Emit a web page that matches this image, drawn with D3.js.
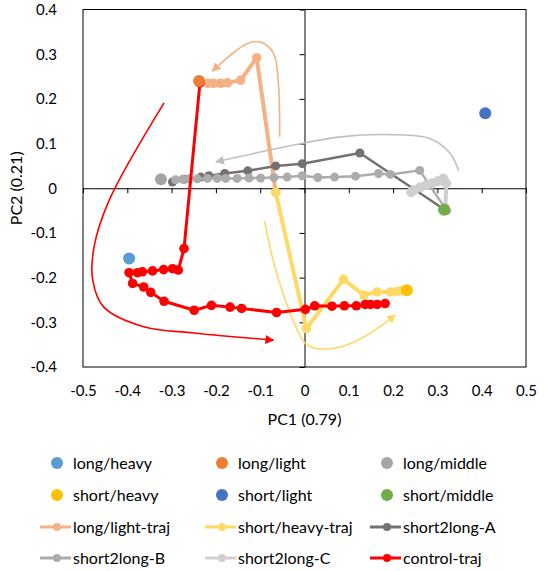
<!DOCTYPE html>
<html><head><meta charset="utf-8">
<script src="https://cdn.jsdelivr.net/npm/d3@7"></script>
<style>body{margin:0;background:#fff}svg{font-family:Lato,"Open Sans",sans-serif}</style>
</head><body><svg id="c" width="550" height="571"></svg>
<script>
// ---- data ----
const xTicks = [-0.5,-0.4,-0.3,-0.2,-0.1,0,0.1,0.2,0.3,0.4,0.5];
const yTicks = [-0.4,-0.3,-0.2,-0.1,0,0.1,0.2,0.3,0.4];
const xTitle = "PC1 (0.79)";
const yTitle = "PC2 (0.21)";

const pointNames = ["long/heavy","long/light","long/middle","short/heavy","short/light","short/middle"];
const pointX = [-0.396,-0.238,-0.324,0.231,0.408,0.315];
const pointY = [-0.157,0.240,0.020,-0.228,0.168,-0.048];
const pointColors = ["#5B9BD5","#ED7D31","#A5A5A5","#FFC000","#4472C4","#70AD47"];

const trajNames = ["long/light-traj","short/heavy-traj","short2long-A","short2long-B","short2long-C","control-traj"];
const trajColors = ["#F4B183","#FFD966","#767171","#AEABAB","#D0CECE","#FF0000"];

const lightTrajX = [-0.065,-0.108,-0.144,-0.174,-0.189,-0.205,-0.218,-0.238];
const lightTrajY = [-0.009,0.292,0.242,0.236,0.235,0.235,0.235,0.240];

const heavyTrajX = [-0.065,0.004,0.088,0.134,0.164,0.194,0.209,0.220,0.231];
const heavyTrajY = [-0.009,-0.314,-0.204,-0.239,-0.232,-0.232,-0.231,-0.229,-0.228];

const aTrajX = [0.315,0.125,-0.005,-0.065,-0.128,-0.180,-0.216,-0.234,-0.272,-0.298];
const aTrajY = [-0.047,0.079,0.055,0.050,0.039,0.033,0.028,0.025,0.020,0.014];

const bTrajX = [0.321,0.260,0.194,0.167,0.115,0.068,0.030,-0.005,-0.039,-0.069,-0.099,-0.125,-0.152,-0.178,-0.197,-0.219,-0.242,-0.261,-0.275,-0.291];
const bTrajY = [-0.050,0.040,0.031,0.033,0.027,0.025,0.024,0.028,0.025,0.024,0.023,0.023,0.022,0.022,0.022,0.022,0.021,0.021,0.020,0.019];

const cTrajX = [0.318,0.320,0.313,0.302,0.288,0.275,0.261,0.248,0.241];
const cTrajY = [-0.045,0.011,0.022,0.016,0.011,0.007,0.002,-0.004,-0.009];

const ctrlTrajX = [-0.236,-0.272,-0.285,-0.298,-0.318,-0.343,-0.366,-0.377,-0.396,-0.388,-0.363,-0.347,-0.317,-0.249,-0.210,-0.168,-0.142,-0.063,0.002,0.023,0.062,0.090,0.117,0.137,0.149,0.164,0.182];
const ctrlTrajY = [0.236,-0.135,-0.183,-0.180,-0.182,-0.185,-0.187,-0.189,-0.189,-0.213,-0.221,-0.233,-0.253,-0.273,-0.262,-0.266,-0.269,-0.278,-0.271,-0.263,-0.264,-0.263,-0.263,-0.260,-0.260,-0.260,-0.258];

// annotation arrows (data coordinates)
const arrowRedX = [-0.317,-0.441,-0.475,-0.478,-0.453,-0.363,-0.250,-0.070];
const arrowRedY = [0.191,-0.027,-0.131,-0.206,-0.266,-0.310,-0.324,-0.340];
const arrowOrangeX = [-0.056,-0.059,-0.070,-0.099,-0.129,-0.167,-0.208];
const arrowOrangeY = [0.115,0.235,0.302,0.327,0.324,0.298,0.262];
const arrowYellowX = [-0.090,-0.069,-0.032,0.002,0.029,0.081,0.134,0.205];
const arrowYellowY = [-0.073,-0.168,-0.280,-0.347,-0.359,-0.355,-0.333,-0.284];
const arrowGrayX = [0.348,0.329,0.284,0.194,0.081,-0.032,-0.200];
const arrowGrayY = [0.039,0.078,0.111,0.120,0.115,0.095,0.059];

// ---- chart ----
const svg = d3.select("#c");
const L=83, R=526, T=9.5, B=367;
const x = d3.scaleLinear().domain([-0.5,0.5]).range([L,R]);
const y = d3.scaleLinear().domain([-0.4,0.4]).range([B,T]);
const fmt = d => d===0 ? "0" : d3.format(".1f")(d).replace("−","-");

// plot border
svg.append("rect").attr("x",L).attr("y",T).attr("width",R-L).attr("height",B-T)
  .attr("fill","none").attr("stroke","#000").attr("stroke-width",1);

// x axis on y=0
const gx = svg.append("g").attr("transform",`translate(0,${y(0)})`)
  .call(d3.axisBottom(x).tickValues(xTicks).tickFormat("").tickSizeInner(5).tickSizeOuter(0));
gx.select(".domain").attr("stroke","#000");
// y axis on x=0
const gy = svg.append("g").attr("transform",`translate(${x(0)},0)`)
  .call(d3.axisLeft(y).tickValues(yTicks).tickFormat("").tickSizeInner(5).tickSizeOuter(0));
gy.select(".domain").attr("stroke","#000");

// tick labels
const gxl = svg.append("g").attr("transform",`translate(0,${B})`)
  .call(d3.axisBottom(x).tickValues(xTicks).tickFormat(fmt).tickSize(0).tickPadding(18));
gxl.select(".domain").remove();
gxl.selectAll("text").attr("font-size",15).attr("fill","#000").attr("font-family","Lato");
const gyl = svg.append("g").attr("transform",`translate(${L},0)`)
  .call(d3.axisLeft(y).tickValues(yTicks).tickFormat(fmt).tickSize(0).tickPadding(26));
gyl.select(".domain").remove();
gyl.selectAll("text").attr("font-size",15).attr("fill","#000").attr("font-family","Lato");

svg.append("text").attr("x",(L+R)/2).attr("y",425).attr("text-anchor","middle")
  .attr("font-size",16).text(xTitle);
svg.append("text").attr("transform",`translate(22,${(T+B)/2}) rotate(-90)`).attr("text-anchor","middle")
  .attr("font-size",16).text(yTitle);

// arrows
const defs = svg.append("defs");
function arrow(xs, ys, color, id){
  defs.append("marker").attr("id",id).attr("viewBox","0 0 10 10").attr("refX",9).attr("refY",5)
    .attr("markerWidth",9).attr("markerHeight",9).attr("markerUnits","userSpaceOnUse").attr("orient","auto")
    .append("path").attr("d","M0,0L10,5L0,10z").attr("fill",color);
  const pts = xs.map((v,i)=>[x(v),y(ys[i])]);
  svg.append("path").attr("d",d3.line().curve(d3.curveCatmullRom.alpha(0.5))(pts))
    .attr("fill","none").attr("stroke",color).attr("stroke-width",1.6).attr("marker-end",`url(#${id})`);
}
arrow(arrowRedX, arrowRedY, "#FF0000", "mR");
arrow(arrowOrangeX, arrowOrangeY, "#F4B183", "mO");
arrow(arrowYellowX, arrowYellowY, "#FFD966", "mY");
arrow(arrowGrayX, arrowGrayY, "#BFBFBF", "mG");

// trajectories
const trajs = [
  [lightTrajX, lightTrajY, 4, 4.8],
  [heavyTrajX, heavyTrajY, 4, 4.8],
  [aTrajX, aTrajY, 2.5, 4.5],
  [bTrajX, bTrajY, 2.5, 4.5],
  [cTrajX, cTrajY, 4, 5],
  [ctrlTrajX, ctrlTrajY, 3, 4.8]
];
const line = d3.line();
trajs.forEach((t,i)=>{
  const pts = t[0].map((v,j)=>[x(v),y(t[1][j])]);
  const g = svg.append("g");
  g.append("path").attr("d",line(pts)).attr("fill","none").attr("stroke",trajColors[i])
    .attr("stroke-width",t[2]).attr("stroke-linejoin","round");
  g.selectAll("circle").data(pts).join("circle").attr("cx",d=>d[0]).attr("cy",d=>d[1])
    .attr("r",t[3]).attr("fill",trajColors[i]);
});

// single points
svg.append("g").selectAll("circle").data(pointX).join("circle")
  .attr("cx",d=>x(d)).attr("cy",(d,i)=>y(pointY[i])).attr("r",6).attr("fill",(d,i)=>pointColors[i]);

// legend
const colX = [57, 222, 387];
const rowY = [463, 495, 527, 558];
const leg = svg.append("g").attr("font-size",16);
pointNames.forEach((n,i)=>{
  const cx = colX[i%3], cy = rowY[Math.floor(i/3)];
  leg.append("circle").attr("cx",cx).attr("cy",cy).attr("r",6).attr("fill",pointColors[i]);
  leg.append("text").attr("x",cx+16).attr("y",cy).attr("dy","0.35em").text(n);
});
trajNames.forEach((n,i)=>{
  const cx = colX[i%3], cy = rowY[2+Math.floor(i/3)];
  leg.append("line").attr("x1",cx-17).attr("x2",cx+14).attr("y1",cy).attr("y2",cy)
    .attr("stroke",trajColors[i]).attr("stroke-width",3);
  leg.append("circle").attr("cx",cx).attr("cy",cy).attr("r",4).attr("fill",trajColors[i]);
  leg.append("text").attr("x",cx+16).attr("y",cy).attr("dy","0.35em").text(n);
});
</script></body></html>
